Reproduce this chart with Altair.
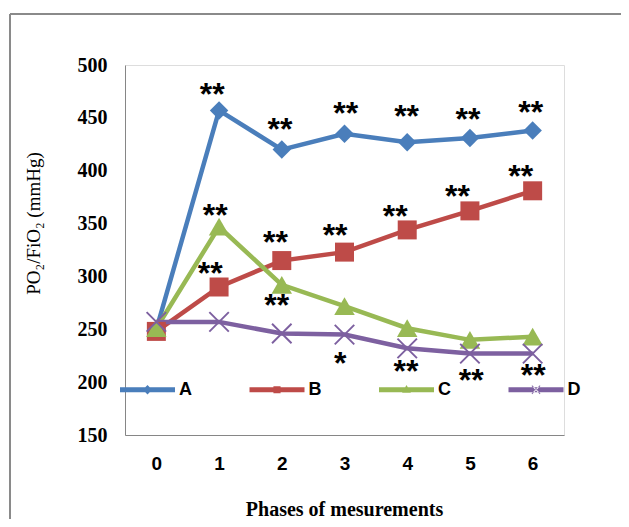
import altair as alt
import pandas as pd

phases = [0, 1, 2, 3, 4, 5, 6]
series_names = ["A", "B", "C", "D"]
vals_A = [250, 457, 420, 435, 427, 431, 438]
vals_B = [248, 290, 315, 323, 344, 362, 381]
vals_C = [251, 347, 292, 272, 251, 240, 243]
vals_D = [257, 257, 246, 245, 232, 227, 227]

# significance marks (position in data units)
ann_x = [0.89, 1.97, 3.02, 3.99, 4.97, 5.97,
         0.86, 1.90, 2.85, 3.81, 4.80, 5.81,
         0.94, 1.92,
         2.93, 3.98, 5.02, 6.01]
ann_y = [478, 445, 460, 457, 455, 461,
         309, 338, 345, 363, 382, 401,
         364, 279,
         224, 216, 208, 212]
ann_text = ["**"] * 14 + ["*", "**", "**", "**"]

y_ticks = [150, 200, 250, 300, 350, 400, 450, 500]

colors = ["#4A7EBB", "#BE4B48", "#98B954", "#7D60A0"]

rows = []
for name, vals in zip(series_names, [vals_A, vals_B, vals_C, vals_D]):
    for p, v in zip(phases, vals):
        rows.append({"phase": p, "value": v, "series": name})
df = pd.DataFrame(rows)
ann = pd.DataFrame({"x": ann_x, "y": ann_y, "t": ann_text})

xscale = alt.Scale(domain=[-0.5, 6.5], nice=False, zero=False)
yscale = alt.Scale(domain=[150, 500], nice=False, zero=False)
cscale = alt.Scale(domain=series_names, range=colors)

X = alt.X("phase:Q", scale=xscale, title="Phases of mesurements",
          axis=alt.Axis(values=phases, format="d", grid=False, ticks=False, domainColor="#868686",
                        labelFont="Liberation Sans", labelFontWeight="bold", labelFontSize=19,
                        labelColor="black", labelPadding=19,
                        titleFont="Liberation Serif", titleFontWeight="bold", titleFontSize=20,
                        titleColor="black", titleX=219, titleY=80,
                        titleBaseline="alphabetic", titleAlign="center"))
Y = alt.Y("value:Q", scale=yscale, title="PO₂/FiO₂ (mmHg)",
          axis=alt.Axis(values=y_ticks, grid=False, ticks=False, domainColor="#868686",
                        labelFont="Liberation Serif", labelFontWeight="bold", labelFontSize=20,
                        labelColor="black", labelPadding=18,
                        titleFont="Liberation Serif", titleFontWeight="normal", titleFontSize=19,
                        titleColor="black", titleX=-92, titleY=158, titleAngle=270,
                        titleAlign="center", titleBaseline="middle"))

base = alt.Chart(df)

xpath = ("M-1.07,-0.93L0.93,1.07L1.07,0.93L-0.93,-1.07Z "
         "M-0.93,1.07L1.07,-0.93L0.93,-1.07L-1.07,0.93Z")
shapes = {"A": ("diamond", 340), "B": ("square", 361), "C": ("triangle-up", 420), "D": (xpath, 380)}

line_layers = []
point_layers = []
for name, col in zip(series_names, colors):
    shp, sz = shapes[name]
    sub = base.transform_filter(alt.datum.series == name)
    line_layers.append(sub.mark_line(strokeWidth=4.5, color=col).encode(x=X, y=Y))
    point_layers.append(
        sub.mark_point(shape=shp, filled=True, size=sz, opacity=1, color=col)
        .encode(x="phase:Q", y="value:Q")
    )

line_rect = "M-1,-0.09L1,-0.09L1,0.09L-1,0.09Z"
leg_paths = [
    line_rect + " M0,-0.17L0.17,0L0,0.17L-0.17,0Z",
    line_rect + " M-0.13,-0.13L0.13,-0.13L0.13,0.13L-0.13,0.13Z",
    line_rect + " M0,-0.17L0.16,0.11L-0.16,0.11Z",
    line_rect + " M-0.16,-0.14L0.14,0.16L0.16,0.14L-0.14,-0.16Z M-0.14,0.16L0.16,-0.14L0.14,-0.16L-0.16,0.14Z",
]
leg = alt.Legend(orient="none", legendX=-5, legendY=297, direction="horizontal", columns=4,
                 columnPadding=57.5, title=None, padding=0, labelFont="Liberation Sans",
                 labelFontWeight="bold", labelFontSize=18, labelColor="black", labelOffset=4,
                 symbolSize=3025, symbolStrokeWidth=0, symbolOpacity=1)
# legend-only layer: no marks drawn, entries come from the explicit scale domains
legend_layer = base.transform_filter("false").mark_point(filled=True, opacity=1).encode(
    x="phase:Q", y="value:Q",
    color=alt.Color("series:N", scale=cscale, legend=leg),
    shape=alt.Shape("series:N", scale=alt.Scale(domain=series_names, range=leg_paths), legend=leg),
)

annot = alt.Chart(ann).mark_text(font="Liberation Sans", fontWeight="bold", fontSize=32,
                                 color="black", baseline="alphabetic", align="center", dy=17).encode(
    x="x:Q", y="y:Q", text="t:N")

one = alt.Data(values=[{}])
frame_top = alt.Chart(one).mark_rule(stroke="#8A8A8A", strokeWidth=2).encode(
    x=alt.value(-115), x2=alt.value(900), y=alt.value(-51))
frame_left = alt.Chart(one).mark_rule(stroke="#8A8A8A", strokeWidth=2).encode(
    x=alt.value(-115), y=alt.value(-51), y2=alt.value(900))

chart = alt.layer(frame_top, frame_left, *line_layers, *point_layers, legend_layer, annot).properties(
    width=439, height=370, autosize="none",
    padding={"left": 117, "top": 57, "right": 57, "bottom": 84},
).configure_view(stroke=None).configure(background="white")

chart.save("out.html", embed_options={"renderer": "svg", "actions": False})
